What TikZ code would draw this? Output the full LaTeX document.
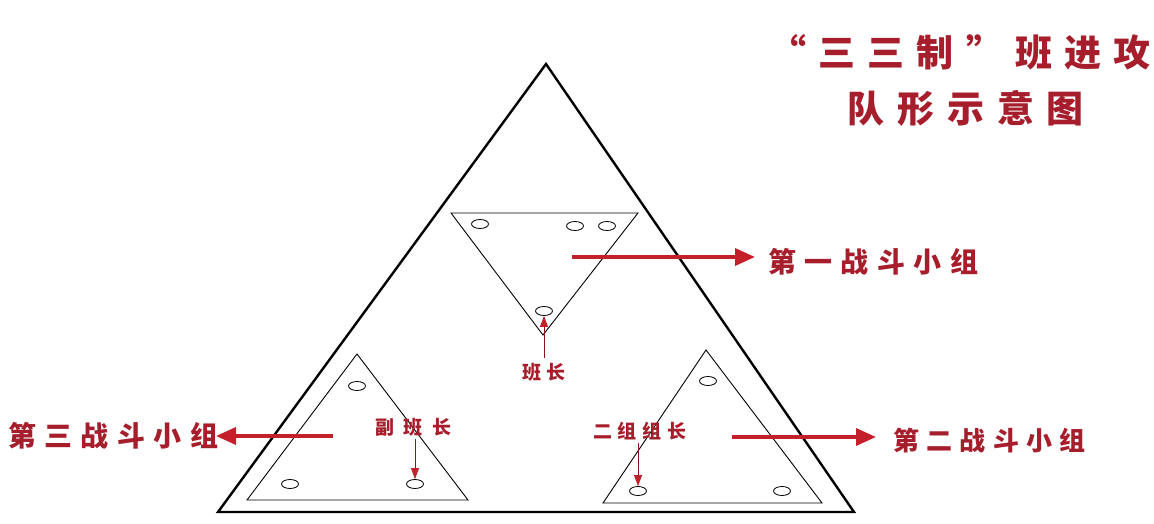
\documentclass[tikz,border=0pt]{standalone}
\usepackage{fontspec}
\newfontfamily\cjk{Noto Sans CJK SC}
\usetikzlibrary{arrows.meta,shapes.geometric}
\definecolor{inkred}{HTML}{A61E2C}
\definecolor{arrred}{HTML}{C4202A}

\begin{document}
\begin{tikzpicture}[x=1pt,y=-1pt,
        title/.style={text=inkred,inner sep=0,anchor=west,font=\cjk\bfseries\fontsize{37}{37}\selectfont\addfontfeature{LetterSpace=35}},
        group/.style={text=inkred,inner sep=0,anchor=west,font=\cjk\bfseries\fontsize{28}{28}\selectfont\addfontfeature{LetterSpace=30}},
        leader/.style={text=inkred,inner sep=0,anchor=west,font=\cjk\bfseries\fontsize{19}{19}\selectfont\addfontfeature{LetterSpace=30}},
        hole/.style={draw,ellipse,line width=0.8pt,minimum width=17pt,minimum height=9pt,inner sep=0},
        bigarrow/.style={arrred,line width=3.5pt,-{Triangle[length=20pt,width=17pt]}},
        smallarrow/.style={arrred!70!black,line width=0.8pt,-{Triangle[length=11pt,width=8pt,color=arrred]}}]
  \useasboundingbox (0,0) rectangle (1154,524);
  % triangles
  \draw[line width=2.4pt,line join=miter] (546,64) -- (218,512) -- (854,512) -- cycle;
  \draw[line width=0.9pt] (451,213) -- (638,213) -- (543,335) -- cycle;
  \draw[line width=0.9pt] (357,354) -- (247,500) -- (468,500) -- cycle;
  \draw[line width=0.9pt] (706,350) -- (603,503) -- (822,503) -- cycle;
  % soldiers
  \node[hole] (e1) at (480,224) {};
  \node[hole] (e2) at (575,226) {};
  \node[hole] (e3) at (607,226) {};
  \node[hole] (e4) at (544,311) {};
  \node[hole] (e5) at (357,386) {};
  \node[hole] (e6) at (290,484) {};
  \node[hole] (e7) at (415,484) {};
  \node[hole] (e8) at (708,381) {};
  \node[hole] (e9) at (638,491) {};
  \node[hole] (e10) at (782,491) {};
  % texts
  \node[title,font=\cjk\bfseries\fontsize{37}{37}\selectfont\addfontfeature{LetterSpace=33}] (t1) at (769,52) {“三三制”班进攻};
  \node[title] (t2) at (847,108) {队形示意图};
  \node[group] (g1) at (768,262) {第一战斗小组};
  \node[group,font=\cjk\bfseries\fontsize{26}{26}\selectfont\addfontfeature{LetterSpace=28}] (g2) at (893,440) {第二战斗小组};
  \node[group] (g3) at (8,436) {第三战斗小组};
  \node[leader] (bz) at (522,372) {班长};
  \node[leader,font=\cjk\bfseries\fontsize{19}{19}\selectfont\addfontfeature{LetterSpace=50}] (fbz) at (375,427) {副班长};
  \node[leader] (ezz) at (593,431) {二组组长};
  % arrows
  \coordinate (a1) at (572,257);
  \coordinate (a1e) at (755,257);
  \coordinate (a2) at (732,437);
  \coordinate (a2e) at (876,437);
  \coordinate (a3) at (333,436);
  \coordinate (a3e) at (216,436);
  \draw[bigarrow] (a1) -- (a1e);
  \draw[bigarrow] (a2) -- (a2e);
  \draw[bigarrow] (a3) -- (a3e);
  \draw[smallarrow] (bz.north -| e4) ++(0,-5) -- (e4.south);
  \draw[smallarrow] (fbz.south -| e7) ++(0,3) -- (e7.north);
  \draw[smallarrow] (ezz.south -| e9) ++(0,3) -- (e9.north);
\end{tikzpicture}
\end{document}
